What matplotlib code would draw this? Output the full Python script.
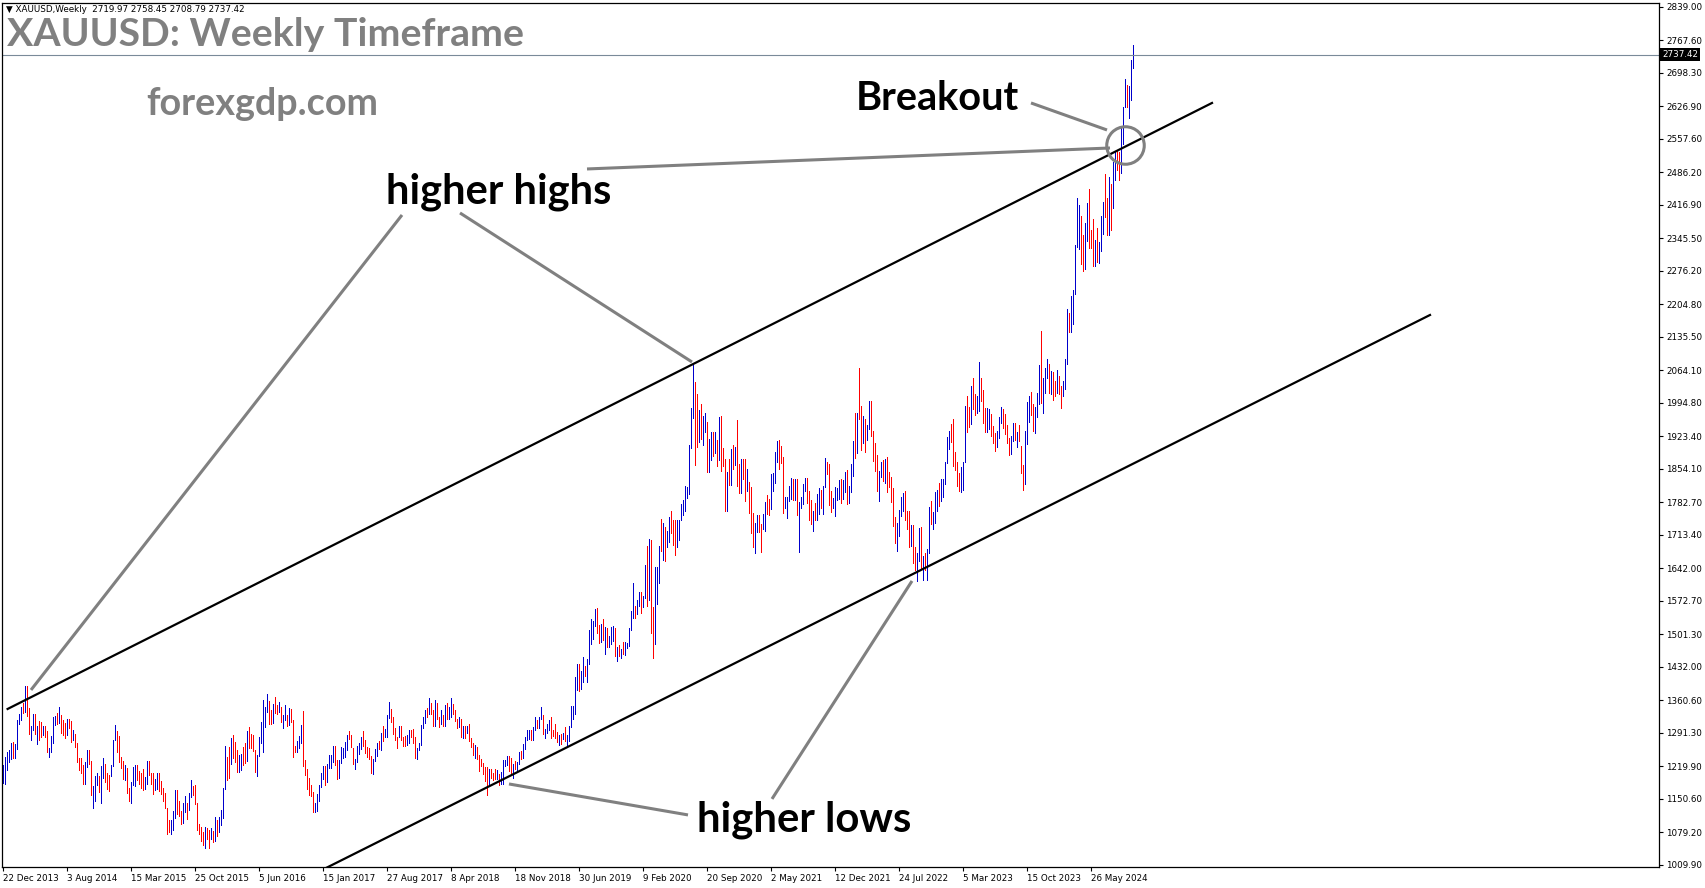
import matplotlib
matplotlib.use("Agg")
import matplotlib.pyplot as plt
import matplotlib.transforms as mtransforms
import numpy as np

# === Weekly XAUUSD bars: 22 Dec 2013 .. 20 Oct 2024 (one row per year) ===
low = [
    1185, 1182, 1212, 1230, 1235, 1238, 1239, 1258, 1310, 1318, 1334, 1335, 1328, 1290, 1277, 1298, 1290, 1268, 1277, 1283,
    1286, 1283, 1250, 1240, 1251, 1270, 1308, 1310, 1312, 1292, 1288, 1281, 1287, 1301, 1273, 1276, 1262, 1229, 1213, 1207,
    1183, 1183, 1219, 1225, 1160, 1131, 1146, 1180, 1165, 1142, 1195, 1187, 1171, 1167,
    # 2015
    1200, 1220, 1276, 1250, 1230, 1216, 1194, 1191, 1163, 1147, 1143, 1181, 1178, 1192, 1183, 1175, 1169, 1171, 1183, 1201,
    1182, 1162, 1170, 1172, 1168, 1162, 1146, 1131, 1077, 1080, 1077, 1085, 1110, 1118, 1115, 1098, 1099, 1123, 1107, 1128,
    1155, 1159, 1140, 1085, 1075, 1062, 1052, 1046, 1066, 1047, 1065, 1059,
    # 2016
    1062, 1072, 1081, 1096, 1111, 1172, 1191, 1196, 1226, 1239, 1229, 1208, 1208, 1213, 1223, 1228, 1232, 1260, 1260, 1252,
    1208, 1199, 1243, 1269, 1250, 1305, 1336, 1310, 1310, 1313, 1334, 1331, 1335, 1315, 1302, 1320, 1306, 1309, 1314, 1241,
    1250, 1250, 1259, 1271, 1220, 1201, 1171, 1159, 1156, 1123, 1122, 1124,
    # 2017
    1146, 1177, 1194, 1180, 1186, 1216, 1216, 1229, 1224, 1194, 1195, 1228, 1237, 1241, 1254, 1278, 1261, 1226, 1214, 1229,
    1246, 1257, 1264, 1248, 1241, 1236, 1205, 1204, 1232, 1243, 1257, 1256, 1275, 1282, 1283, 1323, 1314, 1290, 1276, 1260,
    1282, 1277, 1263, 1263, 1266, 1270, 1283, 1270, 1237, 1236, 1254, 1265,
    # 2018
    1302, 1312, 1326, 1331, 1331, 1306, 1307, 1321, 1303, 1311, 1306, 1306, 1321, 1322, 1325, 1332, 1316, 1302, 1305, 1282,
    1281, 1281, 1291, 1275, 1261, 1245, 1238, 1236, 1211, 1220, 1204, 1190, 1160, 1182, 1196, 1191, 1193, 1193, 1180, 1182,
    1183, 1221, 1224, 1211, 1207, 1196, 1215, 1210, 1226, 1235, 1238, 1257,
    # 2019
    1276, 1279, 1276, 1276, 1298, 1302, 1302, 1321, 1290, 1281, 1291, 1297, 1281, 1285, 1281, 1272, 1266, 1267, 1279, 1275,
    1266, 1275, 1305, 1321, 1331, 1382, 1381, 1385, 1401, 1412, 1400, 1439, 1480, 1491, 1520, 1505, 1484, 1485, 1490, 1459,
    1474, 1474, 1480, 1487, 1456, 1445, 1456, 1452, 1459, 1457, 1473, 1477,
    # 2020
    1510, 1536, 1536, 1546, 1562, 1547, 1560, 1580, 1563, 1575, 1504, 1451, 1482, 1566, 1611, 1680, 1660, 1659, 1688, 1698,
    1717, 1691, 1670, 1688, 1703, 1745, 1757, 1764, 1793, 1800, 1899, 1962, 1863, 1902, 1911, 1917, 1906, 1932, 1848, 1848,
    1873, 1882, 1889, 1860, 1874, 1850, 1860, 1764, 1765, 1820, 1820, 1855, 1863,
    # 2021
    1817, 1803, 1802, 1832, 1785, 1807, 1760, 1717, 1687, 1676, 1719, 1720, 1677, 1727, 1722, 1759, 1756, 1768, 1808, 1825,
    1870, 1855, 1867, 1761, 1770, 1750, 1786, 1790, 1789, 1789, 1755, 1678, 1770, 1779, 1807, 1781, 1745, 1737, 1721, 1745,
    1746, 1758, 1770, 1758, 1816, 1843, 1778, 1762, 1770, 1753, 1787, 1790,
    # 2022
    1782, 1790, 1806, 1780, 1781, 1806, 1840, 1878, 1889, 1961, 1895, 1910, 1890, 1915, 1940, 1924, 1872, 1850, 1807, 1786,
    1836, 1828, 1825, 1805, 1816, 1784, 1732, 1697, 1680, 1711, 1754, 1765, 1745, 1727, 1688, 1690, 1654, 1639, 1615, 1659,
    1641, 1618, 1638, 1617, 1675, 1737, 1727, 1739, 1765, 1776, 1785, 1795,
    # 2023
    1822, 1866, 1896, 1911, 1861, 1852, 1818, 1808, 1804, 1809, 1868, 1934, 1944, 1949, 1981, 1969, 1974, 1977, 2000, 1952,
    1932, 1932, 1939, 1925, 1910, 1893, 1902, 1921, 1952, 1942, 1929, 1910, 1884, 1885, 1913, 1915, 1901, 1913, 1846, 1810,
    1823, 1908, 1954, 1969, 1935, 1931, 1965, 1993, 1994, 1973, 2016, 2049,
    # 2024
    2016, 2013, 2002, 2009, 2017, 2014, 1984, 2010, 2025, 2078, 2146, 2146, 2163, 2228, 2327, 2324, 2291, 2277, 2281, 2340,
    2325, 2326, 2286, 2286, 2295, 2293, 2318, 2354, 2392, 2353, 2353, 2364, 2410, 2470, 2491, 2471, 2485, 2546, 2625, 2625,
    2603, 2641, 2709,
]
high = [
    1224, 1240, 1250, 1256, 1270, 1272, 1268, 1320, 1332, 1346, 1355, 1392, 1392, 1345, 1306, 1331, 1331, 1306, 1316, 1315,
    1306, 1306, 1296, 1259, 1285, 1325, 1328, 1333, 1346, 1330, 1318, 1312, 1322, 1322, 1316, 1297, 1290, 1270, 1239, 1237,
    1222, 1230, 1255, 1256, 1232, 1178, 1199, 1205, 1200, 1220, 1238, 1225, 1205, 1202,
    # 2015
    1224, 1277, 1308, 1295, 1285, 1240, 1232, 1224, 1216, 1175, 1187, 1219, 1224, 1224, 1210, 1205, 1214, 1197, 1232, 1232,
    1206, 1205, 1194, 1205, 1205, 1190, 1175, 1163, 1132, 1105, 1105, 1125, 1170, 1169, 1147, 1125, 1143, 1157, 1143, 1164,
    1191, 1178, 1180, 1142, 1097, 1091, 1080, 1090, 1088, 1085, 1088, 1082,
    # 2016
    1112, 1105, 1112, 1127, 1174, 1263, 1240, 1262, 1281, 1287, 1272, 1255, 1244, 1247, 1262, 1271, 1296, 1304, 1290, 1288,
    1254, 1244, 1283, 1315, 1362, 1347, 1375, 1360, 1340, 1354, 1367, 1352, 1358, 1346, 1330, 1352, 1329, 1344, 1343, 1320,
    1264, 1275, 1285, 1308, 1338, 1234, 1214, 1196, 1180, 1165, 1143, 1162,
    # 2017
    1180, 1207, 1220, 1221, 1226, 1245, 1244, 1264, 1264, 1234, 1233, 1261, 1260, 1273, 1288, 1296, 1288, 1259, 1236, 1264,
    1270, 1282, 1296, 1277, 1261, 1260, 1242, 1235, 1257, 1271, 1274, 1292, 1306, 1300, 1330, 1357, 1342, 1326, 1302, 1282,
    1306, 1306, 1283, 1284, 1287, 1297, 1298, 1300, 1282, 1260, 1271, 1309,
    # 2018
    1326, 1340, 1344, 1366, 1356, 1341, 1362, 1356, 1326, 1341, 1330, 1350, 1356, 1347, 1366, 1353, 1340, 1322, 1326, 1322,
    1306, 1307, 1307, 1310, 1281, 1270, 1265, 1262, 1245, 1235, 1228, 1219, 1219, 1214, 1214, 1207, 1214, 1212, 1204, 1208,
    1233, 1234, 1243, 1243, 1237, 1225, 1231, 1230, 1250, 1252, 1267, 1283,
    # 2019
    1298, 1297, 1298, 1303, 1326, 1320, 1326, 1346, 1330, 1300, 1311, 1320, 1326, 1298, 1310, 1294, 1288, 1290, 1292, 1304,
    1287, 1306, 1348, 1348, 1411, 1439, 1438, 1424, 1453, 1434, 1449, 1510, 1535, 1530, 1555, 1557, 1522, 1523, 1535, 1518,
    1516, 1499, 1518, 1519, 1515, 1475, 1478, 1470, 1485, 1486, 1484, 1515,
    # 2020
    1552, 1611, 1563, 1575, 1591, 1592, 1584, 1649, 1689, 1704, 1703, 1560, 1645, 1645, 1690, 1747, 1739, 1730, 1722, 1751,
    1765, 1745, 1745, 1745, 1746, 1780, 1789, 1818, 1815, 1906, 1984, 2075, 2040, 2015, 1980, 1992, 1966, 1973, 1955, 1917,
    1933, 1933, 1933, 1916, 1965, 1966, 1899, 1875, 1848, 1875, 1897, 1906, 1900,
    # 2021
    1959, 1865, 1875, 1875, 1875, 1855, 1826, 1816, 1760, 1739, 1755, 1755, 1736, 1758, 1784, 1798, 1790, 1843, 1845, 1890,
    1913, 1916, 1903, 1879, 1795, 1795, 1818, 1834, 1833, 1832, 1832, 1783, 1795, 1822, 1834, 1834, 1808, 1787, 1764, 1781,
    1800, 1814, 1810, 1818, 1877, 1870, 1865, 1808, 1793, 1815, 1814, 1831,
    # 2022
    1832, 1830, 1848, 1853, 1818, 1865, 1913, 1974, 1974, 2070, 1989, 1966, 1960, 1948, 1998, 1998, 1936, 1909, 1883, 1849,
    1870, 1874, 1876, 1879, 1848, 1837, 1813, 1752, 1739, 1767, 1794, 1802, 1808, 1765, 1765, 1735, 1735, 1688, 1676, 1729,
    1730, 1668, 1675, 1684, 1772, 1786, 1763, 1805, 1810, 1824, 1833, 1833,
    # 2023
    1870, 1922, 1935, 1949, 1960, 1890, 1870, 1846, 1858, 1870, 1989, 2010, 1987, 2032, 2048, 2015, 2009, 2082, 2048, 2022,
    1985, 1984, 1983, 1971, 1946, 1930, 1935, 1965, 1987, 1982, 1971, 1948, 1920, 1924, 1953, 1953, 1933, 1948, 1903, 1862,
    1935, 1997, 2009, 2019, 1993, 1987, 2017, 2075, 2149, 2047, 2070, 2088,
    # 2024
    2078, 2062, 2060, 2041, 2065, 2053, 2032, 2041, 2088, 2195, 2186, 2222, 2236, 2331, 2432, 2417, 2394, 2353, 2378, 2422,
    2450, 2364, 2387, 2342, 2368, 2338, 2393, 2424, 2484, 2432, 2477, 2461, 2509, 2531, 2531, 2529, 2586, 2626, 2685, 2672,
    2670, 2725, 2758,
]
# B = close above open (blue bar), R = close below open (red bar)
direction = (
    "BBBBBRBBBB" "RBRRBBRBRR" "BRRBBBBRBR" "RRBRRBRRRR" "RBBRRBBBRB" "BRRR"
    "BBBRRRRBRR" "BBBRRRRBBR" "RRBBRRRRRR" "BBBRRRBBRB" "BRRRRRRBRR" "BR"
    "BRBBBBRRBR" "RRBBRRBRRR" "RBBBBBBRRB" "RRBRBBRBRR" "RBBBRRRRRR" "BB"
    "BBBRBBBBRR" "BBBBBRRRBB" "BBRRRRRBBB" "RBRBBBRRRR" "BRRRBBRRRB" "BB"
    "BBRBRRBRRB" "RBRBBRRRBR" "BRBRRRBRRR" "RRRBRRRBRB" "BBBRRBRBBR" "BB"
    "BBRBBRBBRB" "BBRRRRBRBR" "BBBBBBRBBR" "BBBBBRRBRB" "RBBBRBRBRB" "BB"
    "BBRBBRBBRB" "RRBBBRBRBB" "RRRBBBBBBB" "BBRRBRBBRB" "BRBRBRRRBR" "BRB"
    "RRBRRBRRRB" "BRRBBRRBBB" "BRRRBBBBRB" "RBBBBRRRBR" "BBRBBRRRBB" "BB"
    "RBBRBBBRBR" "RBRBBRRRRB" "BRBRRRRRBB" "BBRRRBRRBB" "RBRBBRBBBR" "BB"
    "BBBRRRRRBB" "BRRBRRBBRR" "RBBRRRBBBR" "RRRBBRBRRR" "BBBRRBBBRB" "BB"
    "RBRRBRRBBB" "RBBBBBRRBB" "RRRBRBBBRR" "BRBBRRBBBR" "BBB"
)

price_ticks = [2839.00, 2767.60, 2698.30, 2626.90, 2557.60, 2486.20, 2416.90, 2345.50, 2276.20,
               2204.80, 2135.50, 2064.10, 1994.80, 1923.40, 1854.10, 1782.70, 1713.40, 1642.00,
               1572.70, 1501.30, 1432.00, 1360.60, 1291.30, 1219.90, 1150.60, 1079.20, 1009.90]
date_labels = ["22 Dec 2013", "3 Aug 2014", "15 Mar 2015", "25 Oct 2015", "5 Jun 2016", "15 Jan 2017",
               "27 Aug 2017", "8 Apr 2018", "18 Nov 2018", "30 Jun 2019", "9 Feb 2020", "20 Sep 2020",
               "2 May 2021", "12 Dec 2021", "24 Jul 2022", "5 Mar 2023", "15 Oct 2023", "26 May 2024"]
last_price = 2737.42
header = "\u25bc XAUUSD,Weekly  2719.97 2758.45 2708.79 2737.42"

# trend lines (bar index, price)
upper_channel = ([2.3, 604.5], [1342.5, 2634.4])
lower_channel = ([150.0, 713.5], [978.9, 2182.4])

# === Figure ===
W, H = 1705, 888
fig = plt.figure(figsize=(W / 100, H / 100), dpi=100)
ax = fig.add_axes([2 / W, (H - 867) / H, (1659 - 2) / W, (867 - 3) / H])

x = np.arange(len(low))
lo = np.array(low)
hi = np.array(high)
up = np.array([c == "B" for c in direction])
ax.vlines(x[up], lo[up], hi[up], colors="#0000CC", lw=0.55, antialiased=False)
ax.vlines(x[~up], lo[~up], hi[~up], colors="#FF0000", lw=0.55, antialiased=False)

ax.axhline(last_price, color="#7a8a99", lw=0.8)

# channel
ax.plot(*upper_channel, color="black", lw=1.6)
ax.plot(*lower_channel, color="black", lw=1.6)

# grey pointer lines
gray = "#808080"
pointers = [
    ([199.5, 14.0], [2395.6, 1383.0]),
    ([228.5, 344.5], [2399.9, 2082.2]),
    ([292.0, 553.5], [2493.7, 2538.4]),
    ([514.0, 552.0], [2634.4, 2576.8]),
    ([342.5, 253.0], [1116.6, 1182.6]),
    ([384.5, 454.5], [1150.7, 1615.4]),
]
for px_, py_ in pointers:
    ax.plot(px_, py_, color=gray, lw=2.2, solid_capstyle="butt")
ax.plot([561], [2544.8], marker="o", ms=27, mfc="none", mec=gray, mew=2.2)

ax.set_xlim(-0.5, 828)
ax.set_ylim(1005.6, 2847.5)

# axes styling
for s in ax.spines.values():
    s.set_color("black")
    s.set_linewidth(0.9)
ax.yaxis.tick_right()
ax.set_yticks(price_ticks)
ax.set_yticklabels([f"{p:.2f}" for p in price_ticks])
ax.set_xticks(np.arange(len(date_labels)) * 32)
ax.set_xticklabels(date_labels, ha="left")
ax.tick_params(axis="both", direction="out", length=3, width=0.8, labelsize=6.3, pad=2)

# current price box
trans = mtransforms.blended_transform_factory(ax.transAxes, ax.transData)
ax.text(1.0 + 3 / 1657, last_price, f"{last_price:.2f}", transform=trans, fontsize=6.3,
        color="white", va="center", ha="left",
        bbox=dict(facecolor="black", edgecolor="none", pad=1.2))

# texts
def fpos(px, py):
    return px / W, 1 - py / H

big = dict(family="Lato", weight="bold")
fig.text(*fpos(6, 10), header, fontsize=6.3, va="center", ha="left")
fig.text(*fpos(7, 35), "XAUUSD: Weekly Timeframe", fontsize=28.3, color=gray, va="center", ha="left", **big)
fig.text(*fpos(146, 104), "forexgdp.com", fontsize=27.2, color=gray, va="center", ha="left", **big)
fig.text(*fpos(856, 99), "Breakout", fontsize=28.5, color="black", va="center", ha="left", **big)
fig.text(*fpos(386, 192), "higher highs", fontsize=30, color="black", va="center", ha="left", **big)
fig.text(*fpos(697, 820), "higher lows", fontsize=30.2, color="black", va="center", ha="left", **big)

fig.savefig("out.png", dpi=100, facecolor="white")
